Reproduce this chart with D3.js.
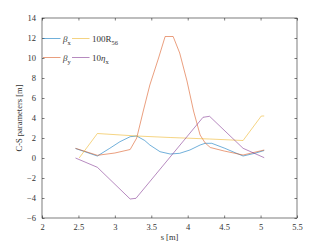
<!DOCTYPE html>
<html>
<head>
<meta charset="utf-8">
<script src="https://cdn.jsdelivr.net/npm/d3@7"></script>
<style>
  body { margin: 0; background: #fff; }
  svg text { font-family: "Liberation Serif", "DejaVu Serif", serif; fill: #333; }
</style>
</head>
<body>
<div id="chart"></div>
<script>
// Dati
const betaXS = [2.46, 2.76, 2.93, 3.07, 3.21, 3.30, 3.41, 3.48, 3.62, 3.76, 3.89, 4.03, 4.17, 4.24, 4.33, 4.51, 4.65, 4.76, 4.92, 5.05];
const betaXY = [0.95, 0.2, 0.97, 1.63, 2.13, 2.2, 1.75, 1.3, 0.63, 0.4, 0.47, 0.8, 1.3, 1.47, 1.47, 0.97, 0.53, 0.2, 0.47, 0.75];

const betaYS = [2.46, 2.76, 3.00, 3.21, 3.30, 3.39, 3.48, 3.60, 3.69, 3.80, 3.89, 3.99, 4.08, 4.17, 4.24, 4.31, 4.50, 4.76, 5.05];
const betaYY = [0.97, 0.27, 0.5, 0.85, 2.0, 4.7, 7.3, 10.0, 12.15, 12.15, 10.5, 7.7, 4.7, 2.3, 1.5, 1.05, 0.7, 0.3, 0.8];

const r56S = [2.51, 2.76, 3.30, 3.76, 4.30, 4.76, 5.01, 5.05];
const r56Y = [0, 2.45, 2.2, 2.05, 1.9, 1.75, 4.2, 4.2];

const etaS = [2.46, 2.76, 3.21, 3.29, 4.21, 4.30, 4.76, 5.05];
const etaY = [0, -0.93, -4.1, -4.03, 4.07, 4.17, 0.97, 0.03];

const xTicks = [2, 2.5, 3, 3.5, 4, 4.5, 5, 5.5];
const yTicks = [-6, -4, -2, 0, 2, 4, 6, 8, 10, 12, 14];

const colors = ["#0072bd", "#d95319", "#edb120", "#7e2f8e"];

// Layout
const [width, height] = [327, 245];
const box = { left: 42, right: 297, top: 18, bottom: 218 };

const svg = d3.select("#chart").append("svg")
  .attr("width", width)
  .attr("height", height);

const xScale = d3.scaleLinear().domain([2, 5.5]).range([box.left, box.right]);
const yScale = d3.scaleLinear().domain([-6, 14]).range([box.bottom, box.top]);

// Assi
const tickLen = 2.5;
svg.append("g")
  .attr("transform", "translate(0," + box.bottom + ")")
  .call(d3.axisBottom(xScale).tickValues(xTicks).tickSizeInner(-tickLen).tickSizeOuter(0).tickPadding(6).tickFormat(d3.format("")))
  .call(g => g.select(".domain").remove());
svg.append("g")
  .attr("transform", "translate(0," + box.top + ")")
  .call(d3.axisTop(xScale).tickValues(xTicks).tickSizeInner(-tickLen).tickSizeOuter(0).tickFormat(""))
  .call(g => g.select(".domain").remove());
svg.append("g")
  .attr("transform", "translate(" + box.left + ",0)")
  .call(d3.axisLeft(yScale).tickValues(yTicks).tickSizeInner(-tickLen).tickSizeOuter(0).tickPadding(6))
  .call(g => g.select(".domain").remove());
svg.append("g")
  .attr("transform", "translate(" + box.right + ",0)")
  .call(d3.axisRight(yScale).tickValues(yTicks).tickSizeInner(-tickLen).tickSizeOuter(0).tickFormat(""))
  .call(g => g.select(".domain").remove());

svg.selectAll(".tick line").attr("stroke", "#262626").attr("stroke-width", 0.6);
svg.selectAll(".tick text").style("font-size", "8.5px").style("font-family", "Liberation Serif").style("fill", "#333");

svg.append("rect")
  .attr("x", box.left).attr("y", box.top)
  .attr("width", box.right - box.left).attr("height", box.bottom - box.top)
  .attr("fill", "none").attr("stroke", "#262626").attr("stroke-width", 0.6);

// Etichette
svg.append("text")
  .attr("x", (box.left + box.right) / 2).attr("y", 240)
  .attr("text-anchor", "middle").style("font-size", "8.5px")
  .text("s [m]");
svg.append("text")
  .attr("transform", "translate(22," + (box.top + box.bottom) / 2 + ") rotate(-90)")
  .attr("text-anchor", "middle").style("font-size", "8.5px")
  .text("C-S parameters [m]");

// Curve
const series = [
  [betaXS, betaXY],
  [betaYS, betaYY],
  [r56S, r56Y],
  [etaS, etaY]
];
const line = d3.line().x(d => xScale(d[0])).y(d => yScale(d[1]));
series.forEach((s, i) => {
  const pts = s[0].map((v, j) => [v, s[1][j]]);
  svg.append("path")
    .datum(pts)
    .attr("d", line)
    .attr("fill", "none")
    .attr("stroke", colors[i])
    .attr("stroke-width", 0.7)
    .attr("opacity", 0.8);
});

// Legenda
const legend = [
  { name: "β", sub: "x", col: 0, row: 0, c: 0, italic: true },
  { name: "100R", sub: "56", col: 1, row: 0, c: 2, italic: false },
  { name: "β", sub: "y", col: 0, row: 1, c: 1, italic: true },
  { name: "10η", sub: "x", col: 1, row: 1, c: 3, italic: false }
];
const colX = [43, 72];
const rowY = [38.5, 57.5];
legend.forEach(l => {
  const x0 = colX[l.col], y0 = rowY[l.row];
  svg.append("line")
    .attr("x1", x0).attr("x2", x0 + 17.5)
    .attr("y1", y0).attr("y2", y0)
    .attr("stroke", colors[l.c]).attr("stroke-width", 0.7).attr("opacity", 0.8);
  const t = svg.append("text")
    .attr("x", x0 + 20).attr("y", y0 + 3)
    .style("font-size", "9px");
  if (l.name === "10η") {
    t.append("tspan").text("10");
    t.append("tspan").style("font-style", "italic").text("η");
  } else {
    t.append("tspan").style("font-style", l.italic ? "italic" : "normal").text(l.name);
  }
  t.append("tspan").attr("dy", 3).style("font-size", "6.5px").text(l.sub);
});
</script>
</body>
</html>
